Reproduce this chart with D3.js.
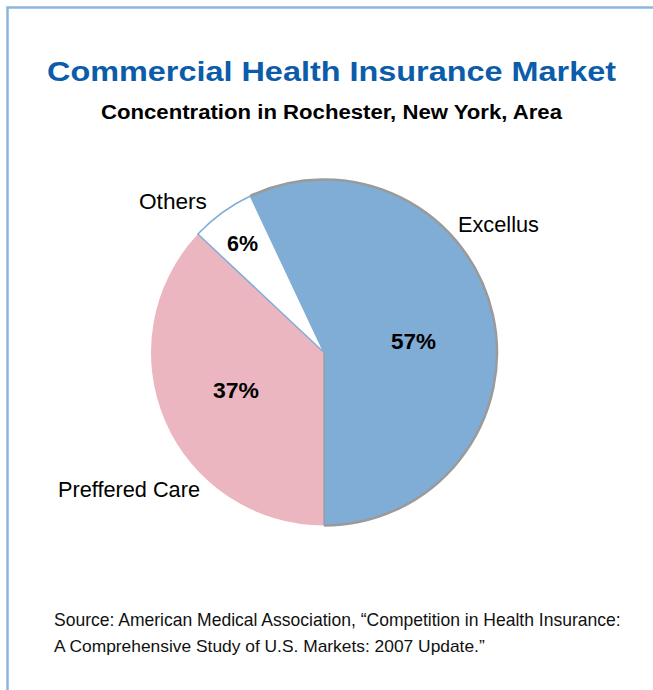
<!DOCTYPE html>
<html><head><meta charset="utf-8">
<script src="https://cdn.jsdelivr.net/npm/d3@7"></script>
<style>body{margin:0;background:#fff}svg{display:block}</style>
</head><body>
<script>
const categories = ["Excellus", "Preffered Care", "Others"];
const values = [57, 37, 6];
const labels = ["57%", "37%", "6%"];
const colors = ["#80add5", "#ecb6c1", "#ffffff"];
const strokes = ["#9a9a9a", "none", "#80add5"];

const W = 653, H = 690;
const svg = d3.select("body").append("svg").attr("width", W).attr("height", H);
svg.append("rect").attr("width", W).attr("height", H).attr("fill", "#fff");
// border (top + left)
svg.append("path").attr("d", `M7.5,${H} V7.5 H${W}`).attr("fill", "none")
  .attr("stroke", "#8cb6dd").attr("stroke-width", 2.5);

function fitText(sel, target) {
  const w = sel.node().getComputedTextLength();
  const fs = parseFloat(sel.attr("font-size"));
  sel.attr("font-size", fs * target / w);
}

svg.append("text").attr("x", 47).attr("y", 81)
  .attr("font-family", "Liberation Sans, Arial, sans-serif").attr("font-weight", "bold")
  .attr("font-size", 28.5).attr("fill", "#0b5ca9")
  .attr("textLength", 569).attr("lengthAdjust", "spacingAndGlyphs")
  .text("Commercial Health Insurance Market");
svg.append("text").attr("x", 101).attr("y", 118.5)
  .attr("font-family", "Liberation Sans, Arial, sans-serif").attr("font-weight", "bold")
  .attr("font-size", 19.5).attr("fill", "#000")
  .attr("textLength", 461).attr("lengthAdjust", "spacingAndGlyphs")
  .text("Concentration in Rochester, New York, Area");

const cx = 324, cy = 352.5, R = 173;
const start = Math.PI - 0.57 * 2 * Math.PI;
const pie = d3.pie().sort(null).value(d => d).startAngle(start).endAngle(start + 2 * Math.PI);
const arcs = pie(values);
const arc = d3.arc().innerRadius(0).outerRadius(R);
const g = svg.append("g").attr("transform", `translate(${cx},${cy})`);

g.selectAll("path.slice").data(arcs).join("path").attr("class", "slice")
  .attr("d", arc).attr("fill", (d, i) => colors[i]).attr("stroke", "none");
// outlines
const outerArc = d3.arc().innerRadius(R).outerRadius(R);
g.append("path").attr("d", outerArc(arcs[0])).attr("fill", "none")
  .attr("stroke", strokes[0]).attr("stroke-width", 2.5);
g.append("path").attr("d", arc(arcs[2])).attr("fill", "none")
  .attr("stroke", strokes[2]).attr("stroke-width", 1.5);
// Excellus straight edge at bottom
const a1 = arcs[0].endAngle;
g.append("line").attr("x1", 0).attr("y1", 0)
  .attr("x2", R * Math.sin(a1)).attr("y2", -R * Math.cos(a1))
  .attr("stroke", "#9a9a9a").attr("stroke-width", 1.2);

// percentage labels
const pctPos = [[391, 349, 45], [213, 398, 46], [227, 251, 31]];
labels.forEach((t, i) => {
  svg.append("text").attr("x", pctPos[i][0]).attr("y", pctPos[i][1])
    .attr("font-family", "Liberation Sans, Arial, sans-serif").attr("font-weight", "bold")
    .attr("font-size", 22).attr("fill", "#000")
    .attr("textLength", pctPos[i][2]).attr("lengthAdjust", "spacingAndGlyphs").text(t);
});
// category labels
const catPos = [[458, 232, 81], [58, 497, 142], [139, 209, 68]];
categories.forEach((t, i) => {
  const s = svg.append("text").attr("x", catPos[i][0]).attr("y", catPos[i][1])
    .attr("font-family", "Liberation Sans, Arial, sans-serif")
    .attr("font-size", 20).attr("fill", "#000").text(t);
  fitText(s, catPos[i][2]);
});

const src = ["Source: American Medical Association, \u201cCompetition in Health Insurance:",
             "A Comprehensive Study of U.S. Markets: 2007 Update.\u201d"];
const srcW = [567, 431];
src.forEach((t, i) => {
  const s = svg.append("text").attr("x", 54).attr("y", 626 + i * 26)
    .attr("font-family", "Liberation Sans, Arial, sans-serif")
    .attr("font-size", 16).attr("fill", "#111").text(t);
  fitText(s, srcW[i]);
});
</script>
</body></html>
